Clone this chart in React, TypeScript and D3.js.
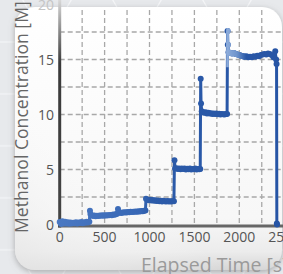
import React from "react";
import * as d3 from "d3";

const timeS = [
  0, 15, 30, 45, 60, 75, 90, 105, 120, 135, 150, 165, 180, 195, 210, 225, 240, 255, 270, 285, 300, 315, 330,
  337, 342, 355, 370, 385, 400, 415, 430, 445, 460, 475, 490, 505, 520, 535, 550, 565, 580, 595, 610, 625, 640,
  649, 655, 670, 685, 700, 715, 730, 745, 760, 775, 790, 805, 820, 835, 850, 865, 880, 895, 910, 925, 940, 955,
  961, 975, 990, 1005, 1020, 1035, 1050, 1065, 1080, 1095, 1110, 1125, 1140, 1155, 1170, 1185, 1200, 1215, 1230, 1245, 1260, 1272,
  1278, 1285, 1300, 1315, 1330, 1345, 1360, 1375, 1390, 1405, 1420, 1435, 1450, 1465, 1480, 1495, 1510, 1525, 1540, 1555, 1565,
  1570, 1574, 1582, 1595, 1610, 1625, 1640, 1655, 1670, 1685, 1700, 1715, 1730, 1745, 1760, 1775, 1790, 1805, 1820, 1835, 1850, 1864,
  1869, 1872, 1880, 1900, 1920, 1940, 1960, 1980, 2000, 2020, 2040, 2060, 2080, 2100, 2120, 2140, 2160, 2180, 2200, 2220, 2240, 2260, 2280, 2300, 2320, 2340, 2360, 2380, 2400, 2410, 2415,
  2418, 2420,
];

const methanolM = [
  0.22, 0.05, 0.3, 0.08, 0.25, 0.1, 0.2, 0.06, 0.18, 0.1, 0.16, 0.12, 0.2, 0.1, 0.18, 0.14, 0.22, 0.12, 0.2, 0.16, 0.24, 0.18, 0.26,
  1.25, 0.95, 0.85, 0.78, 0.82, 0.76, 0.8, 0.77, 0.82, 0.79, 0.83, 0.8, 0.84, 0.81, 0.85, 0.83, 0.87, 0.85, 0.9, 0.88, 0.93, 0.97,
  1.4, 1.15, 1.1, 1.05, 1.1, 1.08, 1.12, 1.1, 1.14, 1.12, 1.15, 1.13, 1.17, 1.15, 1.18, 1.16, 1.2, 1.18, 1.22, 1.2, 1.25, 1.28,
  2.35, 2.25, 2.2, 2.24, 2.18, 2.22, 2.16, 2.2, 2.14, 2.18, 2.12, 2.16, 2.1, 2.15, 2.12, 2.1, 2.14, 2.08, 2.12, 2.1, 2.14, 2.12,
  5.85, 5.1, 5.12, 5.05, 5.1, 5.02, 5.08, 5.04, 5.1, 5.0, 5.06, 5.02, 5.08, 5.0, 5.05, 5.02, 5.08, 5.0, 5.04, 5.02, 5.05,
  13.25, 11.0, 10.3, 10.2, 10.15, 10.2, 10.1, 10.15, 10.08, 10.12, 10.05, 10.1, 10.04, 10.08, 10.02, 10.06, 10.0, 10.05, 10.02, 10.0, 10.04, 10.05,
  17.6, 16.35, 15.65, 15.6, 15.55, 15.6, 15.5, 15.45, 15.4, 15.35, 15.3, 15.25, 15.3, 15.2, 15.25, 15.2, 15.3, 15.25, 15.35, 15.3, 15.4, 15.45, 15.5, 15.45, 15.55, 15.5, 15.4, 15.2, 15.75, 15.0, 14.6,
  0.1, 0.0,
];

const xTicks = [0, 500, 1000, 1500, 2000, 2500];
const yTicks = [0, 5, 10, 15, 20];
const xGrid = [250, 500, 750, 1000, 1250, 1500, 1750, 2000, 2250, 2500];
const yGrid = [2.5, 5, 7.5, 10, 12.5, 15, 17.5];

const W = 283;
const H = 274;

function hexPath(R: number) {
  const h = R * Math.sqrt(3);
  return `M0,${h / 2} L${R / 2},0 L${1.5 * R},0 L${2 * R},${h / 2} L${1.5 * R},${h} L${R / 2},${h} Z M${2 * R},${h / 2} L${3 * R},${h / 2}`;
}

export default function App() {
  const x = d3.scaleLinear().domain([0, 2500]).range([59.7, 284.2]);
  const y = d3.scaleLinear().domain([0, 20]).range([224.5, 4.5]);
  const pts = timeS.map((t, i) => [t, methanolM[i]] as [number, number]);
  const line = d3
    .line<[number, number]>()
    .x((d) => x(d[0]))
    .y((d) => y(d[1]));
  const pathD = line(pts) || "";
  const R = 30;
  const hh = R * Math.sqrt(3);
  const font = "'Open Sans', 'DejaVu Sans', sans-serif";

  const series = (stroke: string, fill: string) => (
    <g>
      <path d={pathD} fill="none" stroke={stroke} strokeWidth={3} strokeLinejoin="round" />
      {pts.map((d, i) => (
        <circle key={i} cx={x(d[0])} cy={y(d[1])} r={3} fill={fill} />
      ))}
    </g>
  );

  return (
    <svg width={W} height={H} style={{ position: "absolute", left: 0, top: 0, display: "block" }}>
      <defs>
        <pattern id="hex" patternUnits="userSpaceOnUse" width={3 * R} height={hh} x={-28} y={-10}>
          <path d={hexPath(R)} fill="none" stroke="#f6f7f9" strokeWidth={1.2} />
        </pattern>
        <linearGradient id="cardFill" x1="0" y1="0" x2="0" y2="1">
          <stop offset="0%" stopColor="#ffffff" />
          <stop offset="80%" stopColor="#f7f7f7" />
          <stop offset="93%" stopColor="#ececec" />
          <stop offset="100%" stopColor="#d6d6d6" />
        </linearGradient>
        <linearGradient id="plotShade" x1="1" y1="0" x2="0" y2="1">
          <stop offset="0%" stopColor="#ffffff" stopOpacity={0} />
          <stop offset="60%" stopColor="#ffffff" stopOpacity={0} />
          <stop offset="100%" stopColor="#e6e6e6" stopOpacity={0.8} />
        </linearGradient>
        <linearGradient id="yAxisGrad" gradientUnits="userSpaceOnUse" x1="0" y1="0" x2="0" y2="226">
          <stop offset="0%" stopColor="#d8d8d8" />
          <stop offset="28%" stopColor="#3a3a3a" />
          <stop offset="100%" stopColor="#444" />
        </linearGradient>
        <linearGradient id="lineGrad" gradientUnits="userSpaceOnUse" x1={x(0)} y1="0" x2={x(2500)} y2="0">
          <stop offset="0%" stopColor="#4a78c2" />
          <stop offset={`${(900 / 2500) * 100}%`} stopColor="#3767b5" />
          <stop offset={`${(1000 / 2500) * 100}%`} stopColor="#2c5ba9" />
          <stop offset="100%" stopColor="#2654a5" />
        </linearGradient>
        <linearGradient id="hiGrad" gradientUnits="userSpaceOnUse" x1={x(1855)} y1="0" x2={x(2070)} y2="0">
          <stop offset="0%" stopColor="#8eaddb" />
          <stop offset="55%" stopColor="#6f94cc" />
          <stop offset="100%" stopColor="#2c5ba9" />
        </linearGradient>
        <clipPath id="hiClip">
          <rect x={x(1855)} y={0} width={x(2070) - x(1855)} height={y(14.3)} />
        </clipPath>
        <filter id="shadow" x="-10%" y="-10%" width="130%" height="130%">
          <feDropShadow dx="0" dy="2" stdDeviation="3" floodColor="#777" floodOpacity="0.55" />
        </filter>
      </defs>

      <rect x={0} y={0} width={W} height={H} fill="#e7e9ec" />
      <rect x={0} y={0} width={W} height={H} fill="url(#hex)" />

      <rect x={15} y={7} width={267} height={263} rx={20} ry={20} fill="url(#cardFill)" filter="url(#shadow)" />
      <rect x={15} y={7} width={267} height={263} rx={20} ry={20} fill="url(#plotShade)" />

      <g stroke="#a8a8a8" strokeWidth={1.3} strokeDasharray="5,3">
        {xGrid.map((g) => (
          <line key={"gx" + g} x1={x(g)} x2={x(g)} y1={10} y2={y(0)} />
        ))}
        {yGrid.map((g) => (
          <line key={"gy" + g} x1={x(0)} x2={283} y1={y(g)} y2={y(g)} />
        ))}
      </g>

      <line x1={58} x2={283} y1={226} y2={226} stroke="#666" strokeWidth={3} />
      <line x1={x(0)} x2={x(0)} y1={0} y2={227.5} stroke="url(#yAxisGrad)" strokeWidth={3} />

      {series("url(#lineGrad)", "url(#lineGrad)")}
      <g clipPath="url(#hiClip)">{series("url(#hiGrad)", "url(#hiGrad)")}</g>

      <g fontFamily={font} fontSize={14} fill="#555">
        {yTicks.map((t) => (
          <text key={"yt" + t} x={54} y={y(t)} dy="0.36em" textAnchor="end" fill={t === 20 ? "#c4c4c4" : "#555"}>
            {t}
          </text>
        ))}
        {xTicks.map((t) => (
          <text key={"xt" + t} x={x(t)} y={242} textAnchor="middle">
            {t}
          </text>
        ))}
      </g>

      <text
        transform="translate(28,233) rotate(-90)"
        fontFamily={font}
        fontSize={17.6}
        fill="#666"
        textAnchor="start"
      >
        Methanol Concentration [M]
      </text>
      <text x={141} y={271.5} fontFamily={font} fontSize={19.5} fill="#9a9a9a">
        Elapsed Time [s]
      </text>
    </svg>
  );
}
